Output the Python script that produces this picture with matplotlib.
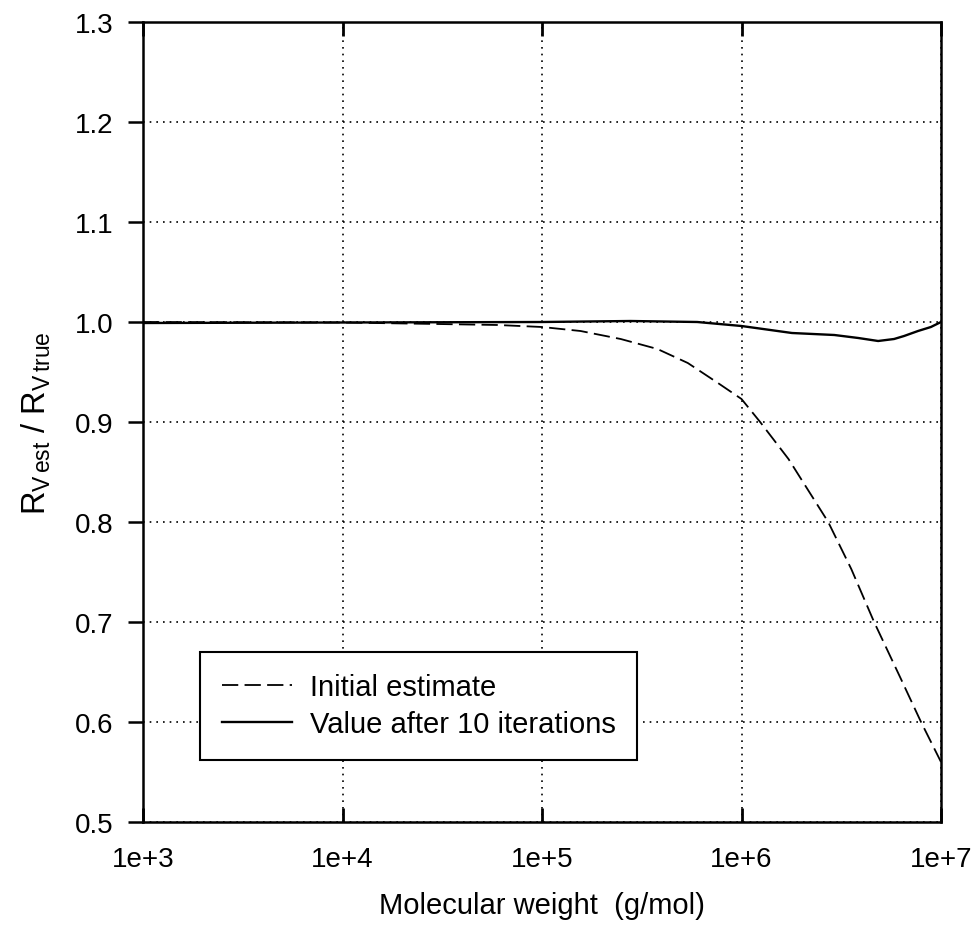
import matplotlib
matplotlib.use("Agg")
import matplotlib.pyplot as plt

plt.rcParams['font.family'] = ['Liberation Sans', 'DejaVu Sans']
plt.rcParams['mathtext.fontset'] = 'custom'
plt.rcParams['mathtext.rm'] = 'Liberation Sans'
plt.rcParams['mathtext.it'] = 'Liberation Sans'

# Data
mw_initial = [1e3, 1e4, 3e4, 6e4, 1e5, 1.56e5, 2.48e5, 3.79e5, 5.38e5, 7.62e5,
              1e6, 1.24e6, 1.72e6, 2.72e6, 3.55e6, 4.62e6, 6.3e6, 7.94e6, 1e7]
r_initial = [1.0, 0.9995, 0.998, 0.997, 0.995, 0.991, 0.983, 0.973, 0.959, 0.939,
             0.923, 0.90, 0.863, 0.80, 0.753, 0.70, 0.643, 0.60, 0.56]

mw_iter = [1e3, 1e4, 1e5, 2.78e5, 6e5, 1e6, 1.79e6, 2.92e6, 3.85e6, 4.84e6,
           5.82e6, 6.53e6, 7.67e6, 8.9e6, 1e7]
r_iter = [0.999, 0.9995, 1.0, 1.001, 1.0, 0.996, 0.989, 0.987, 0.984, 0.981,
          0.983, 0.986, 0.991, 0.995, 1.0]

xticks = [1e3, 1e4, 1e5, 1e6, 1e7]
xticklabels = ['1e+3', '1e+4', '1e+5', '1e+6', '1e+7']
yticks = [0.5, 0.6, 0.7, 0.8, 0.9, 1.0, 1.1, 1.2, 1.3]
yticklabels = ['0.5', '0.6', '0.7', '0.8', '0.9', '1.0', '1.1', '1.2', '1.3']

W, H = 977, 928
fig = plt.figure(figsize=(W / 100, H / 100), dpi=100)
L, R, T, B = 143, 941, 23, 823
ax = fig.add_axes([L / W, 1 - B / H, (R - L) / W, (B - T) / H])

ax.plot(mw_initial, r_initial, color='black', lw=1.3, dashes=(9, 3.5),
        label='Initial estimate')
ax.plot(mw_iter, r_iter, color='black', lw=1.7, label='Value after 10 iterations')

ax.set_xscale('log')
ax.set_xlim(1e3, 1e7)
ax.set_ylim(0.5, 1.3)
ax.set_xticks(xticks)
ax.set_xticklabels(xticklabels)
ax.minorticks_off()
ax.set_yticks(yticks)
ax.set_yticklabels(yticklabels)

ax.grid(True, which='major', color='black', linestyle=(0, (1, 3)), lw=1.2)
ax.tick_params(axis='x', direction='in', length=10, width=2, top=True,
               labelsize=20, pad=17)
ax.tick_params(axis='y', direction='out', length=11, width=1.8, right=False,
               labelsize=20, pad=10)
for s in ax.spines.values():
    s.set_linewidth(1.8)

ax.set_xlabel('Molecular weight  (g/mol)', fontsize=21, labelpad=14)
ax.set_ylabel(r'$\mathregular{R_{V\,est}\ /\ R_{V\,true}}$', fontsize=23.5)
ax.yaxis.set_label_coords(-0.113, 0.5)

leg = ax.legend(loc='lower left', bbox_to_anchor=(0.071, 0.0775), fontsize=21,
                frameon=True, fancybox=False, edgecolor='black', framealpha=1,
                handlelength=2.4, borderpad=0.75, labelspacing=0.3, handletextpad=0.62,
                borderaxespad=0)
leg.get_frame().set_linewidth(1.5)

fig.savefig('out.png', dpi=100)
